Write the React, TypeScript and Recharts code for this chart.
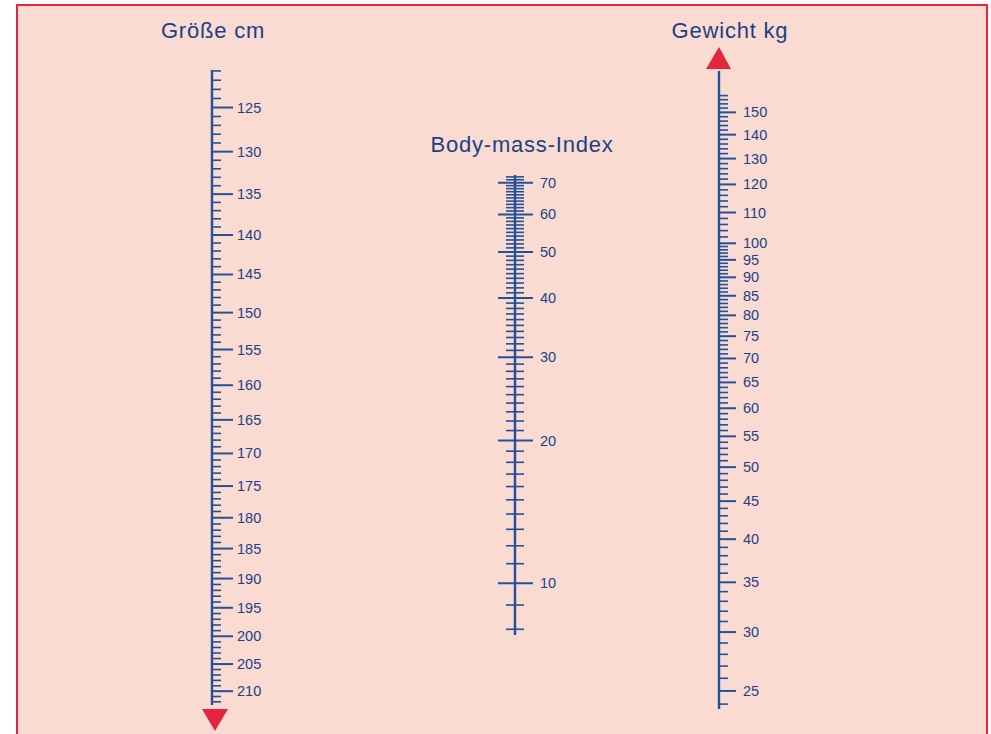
import React from 'react';
import { ComposedChart, XAxis, YAxis } from 'recharts';

// ---------- data ----------
const heightMajor = [125, 130, 135, 140, 145, 150, 155, 160, 165, 170, 175, 180, 185, 190, 195, 200, 205, 210];
const heightMinor = Array.from({ length: 212 - 121 + 1 }, (_, i) => 121 + i).filter((v) => v % 5 !== 0);
const heightDomain = [120.9, 212.6];

const bmiMajor = [10, 20, 30, 40, 50, 60, 70];
const bmiMinor = Array.from({ length: 72 - 8 + 1 }, (_, i) => 8 + i).filter((v) => v % 10 !== 0);
const bmiDomain = [7.78, 72.66];

const weightMajor = [25, 30, 35, 40, 45, 50, 55, 60, 65, 70, 75, 80, 85, 90, 95, 100, 110, 120, 130, 140, 150];
const weightMinorLow = Array.from({ length: 100 - 24 }, (_, i) => 24 + i).filter((v) => v % 5 !== 0);
const weightMinorHigh = [102, 104, 106, 108, 112, 114, 116, 118, 122, 124, 126, 128, 132, 134, 136, 138, 142, 144, 146, 148, 152, 154, 156, 158];
const weightDomain = [23.64, 170.5];

const titles = { height: 'Größe cm', bmi: 'Body-mass-Index', weight: 'Gewicht kg' };

// ---------- styles ----------
const LINE = '#24509a';
const TEXT = '#1d3f88';
const BG = '#f9dbd2';
const RED = '#e4253f';
const TICK_FONT = '"Liberation Sans", Arial, sans-serif';
const TITLE_FONT = '"Liberation Sans", Arial, sans-serif';

const HX = 212, BX = 515, WX = 719;

const makeTick = (majors: number[], leftMajor: number, rightMajor: number, leftMinor: number, rightMinor: number, labelGap: number) =>
  (props: any) => {
    const { x, y, payload } = props;
    const v = payload.value;
    const isMajor = majors.includes(v);
    return (
      <g>
        <line
          x1={x - (isMajor ? leftMajor : leftMinor)}
          x2={x + (isMajor ? rightMajor : rightMinor)}
          y1={y}
          y2={y}
          stroke={LINE}
          strokeWidth={isMajor ? 2 : 1.6}
        />
        {isMajor && (
          <text x={x + labelGap} y={y} dominantBaseline="central" fill={TEXT} fontSize={14.5} fontFamily={TICK_FONT}>
            {v}
          </text>
        )}
      </g>
    );
  };

function NomoAxis({ axisX, top, bottom, domain, ticks, reversed, tick }: any) {
  const padT = 10, padB = 10, leftSpace = 30, axisW = 80, plotW = 10;
  const width = leftSpace + axisW;
  const height = bottom - top + padT + padB;
  return (
    <div style={{ position: 'absolute', left: axisX - leftSpace, top: top - padT }}>
      <ComposedChart width={width} height={height} data={[]} margin={{ top: padT, bottom: padB, left: leftSpace - plotW, right: 0 }}>
        <XAxis hide />
        <YAxis
          orientation="right"
          type="number"
          scale="log"
          domain={domain}
          allowDataOverflow
          ticks={ticks}
          interval={0}
          reversed={reversed}
          width={axisW}
          axisLine={{ stroke: LINE, strokeWidth: 2.4 }}
          tickLine={false}
          tickSize={0}
          tickMargin={0}
          tick={tick}
        />
      </ComposedChart>
    </div>
  );
}

export default function App() {
  return (
    <div style={{ position: 'absolute', left: 0, top: 0, width: 991, height: 734, background: '#fff', overflow: 'hidden' }}>
      <div style={{ position: 'absolute', left: 16, top: 4, width: 968, height: 760, background: BG, border: `2px solid ${RED}` }} />
      <svg width={991} height={734} style={{ position: 'absolute', left: 0, top: 0 }}>
        <text x={HX + 1} y={38} textAnchor="middle" fill={TEXT} fontSize={22} letterSpacing={0.8} fontFamily={TITLE_FONT}>{titles.height}</text>
        <text x={BX + 7} y={152} textAnchor="middle" fill={TEXT} fontSize={22} letterSpacing={0.8} fontFamily={TITLE_FONT}>{titles.bmi}</text>
        <text x={WX + 11} y={38} textAnchor="middle" fill={TEXT} fontSize={22} letterSpacing={0.8} fontFamily={TITLE_FONT}>{titles.weight}</text>
        <polygon points={`${HX - 10},709 ${HX + 16},709 ${HX + 3},731`} fill={RED} />
        <polygon points={`${WX - 13},69 ${WX + 12},69 ${WX},47`} fill={RED} />
      </svg>
      <NomoAxis
        axisX={HX}
        top={70}
        bottom={705}
        domain={heightDomain}
        ticks={[...heightMinor, ...heightMajor].sort((a, b) => a - b)}
        reversed
        tick={makeTick(heightMajor, 0, 21, 0, 9, 25)}
      />
      <NomoAxis
        axisX={BX}
        top={175}
        bottom={635}
        domain={bmiDomain}
        ticks={[...bmiMinor, ...bmiMajor].sort((a, b) => a - b)}
        reversed={false}
        tick={makeTick(bmiMajor, 17, 18, 9, 9, 25)}
      />
      <NomoAxis
        axisX={WX}
        top={71}
        bottom={709}
        domain={weightDomain}
        ticks={[...weightMinorLow, ...weightMinorHigh, ...weightMajor].sort((a, b) => a - b)}
        reversed={false}
        tick={makeTick(weightMajor, 0, 17, 0, 9, 24)}
      />
    </div>
  );
}
